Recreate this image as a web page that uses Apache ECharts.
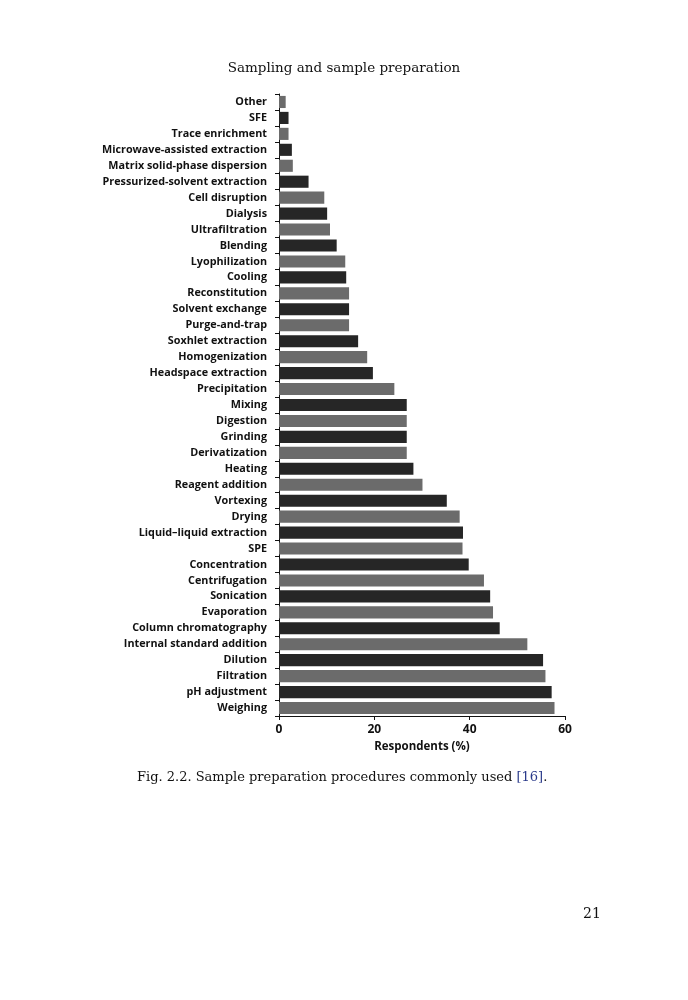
<!DOCTYPE html>
<html><head><meta charset="utf-8">
<script src="https://cdn.jsdelivr.net/npm/echarts@6/dist/echarts.min.js"></script>
<style>html,body{margin:0;background:#fff}#c{width:688px;height:1000px}</style>
</head><body><div id="c"></div>
<script>
var categories = ['Other','SFE','Trace enrichment','Microwave-assisted extraction','Matrix solid-phase dispersion',
  'Pressurized-solvent extraction','Cell disruption','Dialysis','Ultrafiltration','Blending','Lyophilization',
  'Cooling','Reconstitution','Solvent exchange','Purge-and-trap','Soxhlet extraction','Homogenization',
  'Headspace extraction','Precipitation','Mixing','Digestion','Grinding','Derivatization','Heating',
  'Reagent addition','Vortexing','Drying','Liquid\u2013liquid extraction','SPE','Concentration','Centrifugation',
  'Sonication','Evaporation','Column chromatography','Internal standard addition','Dilution','Filtration',
  'pH adjustment','Weighing'];
var values = [1.4,2.0,2.0,2.7,2.9,6.2,9.5,10.1,10.7,12.1,13.9,14.1,14.7,14.7,14.7,16.6,18.5,19.7,24.2,26.8,
  26.8,26.8,26.8,28.2,30.1,35.2,37.9,38.6,38.5,39.8,43.0,44.3,44.9,46.3,52.1,55.4,55.9,57.2,57.8];
var xTicks = [0, 20, 40, 60];

var chart = echarts.init(document.getElementById('c'));
chart.setOption({
  backgroundColor: '#fff',
  animation: false,
  grid: {left: 279, right: 123, top: 94, bottom: 284},
  xAxis: {
    type: 'value', min: 0, max: 60, interval: 20,
    name: 'Respondents (%)', nameLocation: 'middle', nameGap: 24,
    nameTextStyle: {color: '#111', fontFamily: 'Open Sans', fontWeight: 'bold', fontSize: 11.5},
    axisLine: {show: true, lineStyle: {color: '#111'}},
    axisTick: {show: true, lineStyle: {color: '#111'}, length: 4},
    axisLabel: {color: '#111', fontFamily: 'Open Sans', fontWeight: 'bold', fontSize: 12,
      formatter: function (v) { return xTicks.indexOf(v) >= 0 ? v : ''; }},
    splitLine: {show: false}
  },
  yAxis: {
    type: 'category', data: categories, inverse: true,
    axisLine: {show: true, lineStyle: {color: '#111'}},
    axisTick: {show: true, lineStyle: {color: '#111'}, length: 4},
    axisLabel: {color: '#111', fontFamily: 'Open Sans', fontWeight: 'bold', fontSize: 10.8, margin: 12}
  },
  series: [{
    type: 'bar', barCategoryGap: '24%',
    data: values.map(function (v, i) {
      return {value: v, itemStyle: {color: i % 2 === 0 ? '#6b6b6b' : '#262626'}};
    })
  }],
  graphic: [
    {type: 'text', left: 'center', top: 61, style: {text: 'Sampling and sample preparation',
      font: '13.5px "DejaVu Serif"', fill: '#111'}},
    {type: 'text', left: 137, top: 771, style: {
      text: '{a|Fig. 2.2. Sample preparation procedures commonly used }{b|[16]}{a|.}',
      rich: {a: {font: '13px "DejaVu Serif"', fill: '#111'}, b: {font: '13px "DejaVu Serif"', fill: '#2a3a8a'}}}},
    {type: 'text', left: 583, top: 907, style: {text: '21', font: '14px "DejaVu Serif"', fill: '#111'}}
  ]
});
</script></body></html>
